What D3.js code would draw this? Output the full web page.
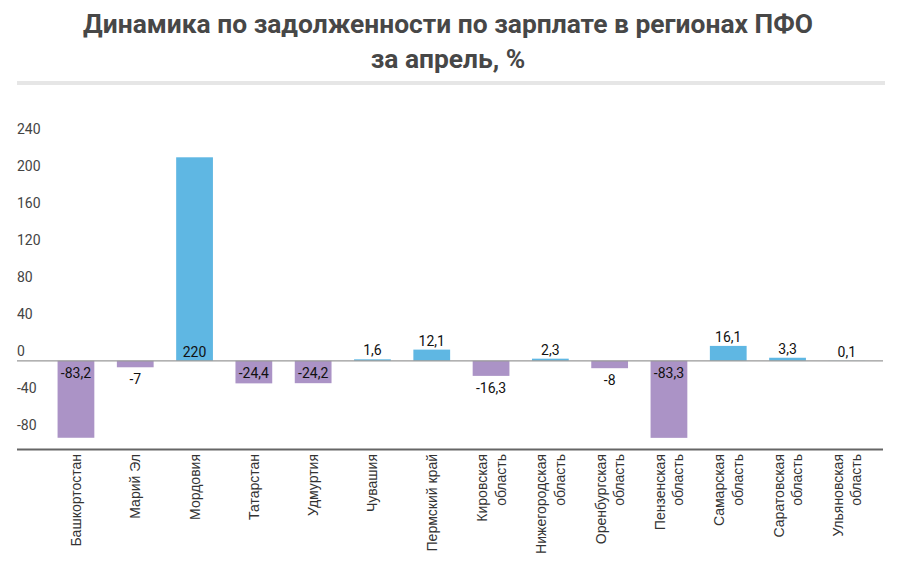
<!DOCTYPE html>
<html>
<head>
<meta charset="utf-8">
<script src="https://cdn.jsdelivr.net/npm/d3@7"></script>
<style>
  html, body { margin: 0; padding: 0; background: #fff; }
  svg { display: block; }
</style>
</head>
<body>
<svg id="chart" width="903" height="575"></svg>
<script>
const titleLines = ["Динамика по задолженности по зарплате в регионах ПФО", "за апрель, %"];
const categories = ["Башкортостан", "Марий Эл", "Мордовия", "Татарстан", "Удмуртия", "Чувашия", "Пермский край",
  "Кировская область", "Нижегородская область", "Оренбургская область", "Пензенская область",
  "Самарская область", "Саратовская область", "Ульяновская область"];
const values = [-83.2, -7, 220, -24.4, -24.2, 1.6, 12.1, -16.3, 2.3, -8, -83.3, 16.1, 3.3, 0.1];
const yTicks = [-80, -40, 0, 40, 80, 120, 160, 200, 240];

const svg = d3.select("#chart");

// Title
svg.selectAll("text.title").data(titleLines).enter().append("text")
  .attr("class", "title")
  .attr("x", 448).attr("y", (d, i) => 33 + i * 35)
  .attr("text-anchor", "middle")
  .attr("font-family", "Roboto, sans-serif")
  .attr("font-weight", "bold")
  .attr("font-size", 26.4)
  .attr("fill", "#474747")
  .text(d => d);

svg.append("rect").attr("x", 17).attr("y", 81).attr("width", 868).attr("height", 4).attr("fill", "#e6e6e6");

const x = d3.scaleBand().domain(categories).range([46.3, 876.5]).paddingInner(0.38).paddingOuter(0.19);
const y = d3.scaleLinear().domain([-96, 260]).range([449.6, 120.3]);

// Y tick labels
svg.append("g").selectAll("text").data(yTicks).enter().append("text")
  .attr("x", 17).attr("y", d => y(d) - 5)
  .attr("font-family", "Roboto, sans-serif")
  .attr("font-size", 14)
  .attr("fill", "#444")
  .text(d => d);

// Bars
svg.append("g").selectAll("rect").data(values).enter().append("rect")
  .attr("x", (d, i) => x(categories[i]))
  .attr("width", x.bandwidth())
  .attr("y", d => y(Math.max(0, d)))
  .attr("height", d => Math.abs(y(d) - y(0)))
  .attr("fill", d => d >= 0 ? "#5fb7e3" : "#ab93c6");

// Zero line
svg.append("line").attr("x1", 17).attr("x2", 883).attr("y1", y(0)).attr("y2", y(0))
  .attr("stroke", "#999").attr("stroke-width", 1.2);

// Bottom axis line
svg.append("line").attr("x1", 17).attr("x2", 883).attr("y1", 449.5).attr("y2", 449.5)
  .attr("stroke", "#666").attr("stroke-width", 2);

// Value labels
const fmt = v => String(v).replace(".", ",");
svg.append("g").selectAll("text").data(values).enter().append("text")
  .attr("x", (d, i) => x(categories[i]) + x.bandwidth() / 2)
  .attr("y", d => {
    const len = Math.abs(y(d) - y(0));
    if (len > 20) return d >= 0 ? y(0) - 9 : y(0) + 12;
    return d >= 0 ? y(d) - 9 : y(d) + 12;
  })
  .attr("dominant-baseline", "central")
  .attr("text-anchor", "middle")
  .attr("font-family", "Roboto, sans-serif")
  .attr("font-size", 14)
  .attr("fill", "#111")
  .text(d => fmt(d));

// X labels (rotated)
const gx = svg.append("g");
categories.forEach((c, i) => {
  const cx = x(c) + x.bandwidth() / 2;
  const lines = c.endsWith(" область") ? [c.replace(" область", ""), "область"] : [c];
  lines.forEach((ln, j) => {
    const off = lines.length === 1 ? 0 : (j === 0 ? -9 : 9.5);
    gx.append("text")
      .attr("transform", `translate(${cx + off},454) rotate(-90)`)
      .attr("text-anchor", "end")
      .attr("dominant-baseline", "central")
      .attr("font-family", "'Liberation Sans', Arial, sans-serif")
      .attr("font-size", 14)
      .attr("fill", "#333")
      .text(ln);
  });
});
</script>
</body>
</html>
